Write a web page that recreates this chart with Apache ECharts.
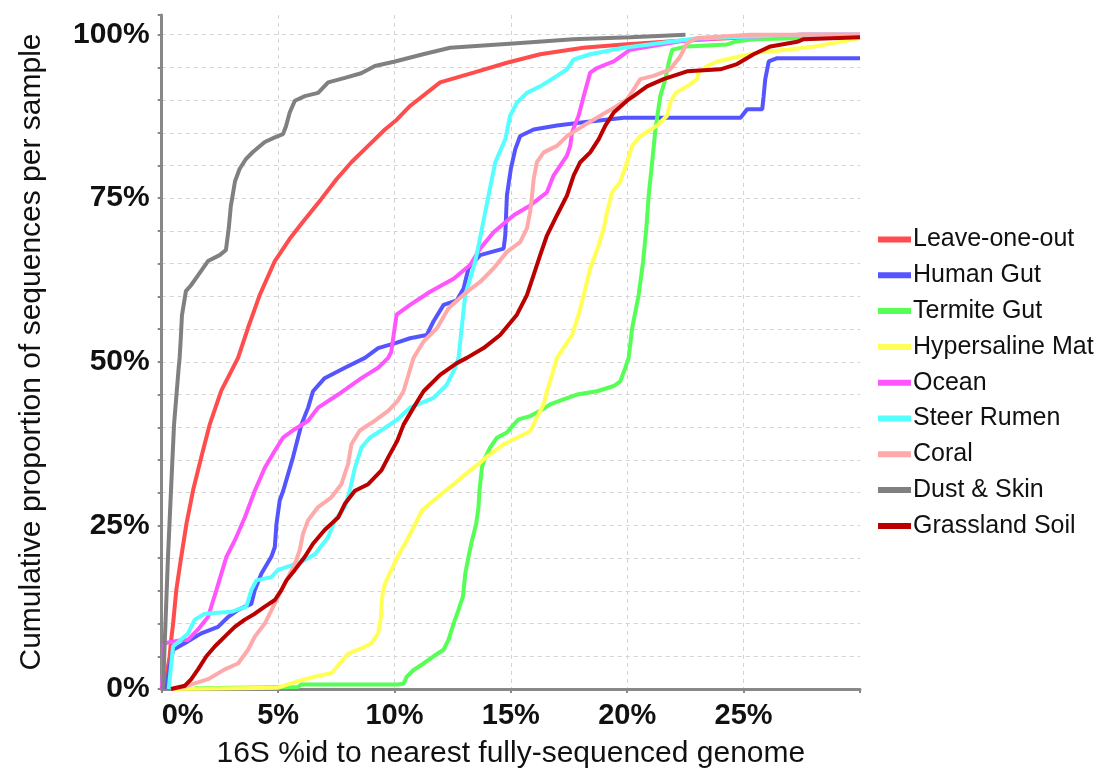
<!DOCTYPE html>
<html>
<head>
<meta charset="utf-8">
<script src="https://cdn.jsdelivr.net/npm/echarts@6/dist/echarts.min.js"></script>
<style>html,body{margin:0;padding:0;background:#fff;}#c{width:1097px;height:774px;}</style>
</head>
<body>
<div id="c"></div>
<script>
// Category names (legend order)
const seriesNames = ['Leave-one-out','Human Gut','Termite Gut','Hypersaline Mat','Ocean','Steer Rumen','Coral','Dust & Skin','Grassland Soil'];
const seriesColors = ['#ff4d4d','#5555ff','#55ff55','#ffff55','#ff55ff','#55ffff','#ffaaaa','#808080','#bb0000'];
const xTicks = [0,5,10,15,20,25];
const yLabelTicks = [0,25,50,75,100];

// [x = %id, y = cumulative %]
const leaveOneOut = [[0,0],[0.13,0.4],[0.34,5],[0.41,7.6],[0.49,10],[0.63,15.2],[0.84,20.2],[1.06,25.2],[1.35,30.4],[1.70,35.4],[2.06,40.4],[2.56,45.6],[3.28,50.6],[3.71,55.2],[4.21,60.2],[4.86,65.4],[5.50,68.8],[6.07,71.4],[6.86,74.9],[7.51,77.9],[8.15,80.5],[8.87,83.0],[9.59,85.5],[10.1,87],[10.67,89.1],[11.96,92.7],[13.4,94.2],[14.83,95.7],[16.26,97],[18.11,98],[19.83,98.5],[22.93,99.2],[27.5,100],[30,100]];
const humanGut = [[0.2,0],[0.34,3.4],[0.49,6.0],[0.99,7.0],[1.70,8.5],[2.42,9.5],[2.85,11.0],[3.28,12.1],[3.85,13.0],[4.0,15.1],[4.28,17.6],[4.71,20.2],[4.86,21.7],[4.93,25.2],[5.07,28.8],[5.22,30.3],[5.64,35.4],[6.0,40.4],[6.29,43.0],[6.5,45.5],[7.0,47.5],[7.87,49.1],[8.73,50.6],[9.30,52.1],[10.07,52.9],[10.67,53.6],[11.39,54.1],[11.68,56.2],[12.11,58.7],[12.68,59.4],[12.97,61.2],[13.18,64.3],[13.68,66.3],[14.69,67.3],[14.76,69.3],[14.83,75.4],[15.0,79.5],[15.19,82.5],[15.4,84.5],[15.98,85.5],[16.98,86.1],[18.13,86.6],[19.85,87.3],[24.87,87.3],[25.15,88.6],[25.8,88.6],[25.86,90.6],[25.93,93.2],[26.08,95.9],[26.44,96.4],[30,96.4]];
const termiteGut = [[1.4,0.1],[5.86,0.3],[5.99,0.7],[10.12,0.7],[10.39,0.8],[10.53,1.9],[10.82,2.9],[11.25,3.9],[11.68,5.0],[12.11,6.0],[12.32,7.5],[12.54,10.0],[12.75,12.1],[12.94,14.1],[13.04,17.6],[13.18,20.2],[13.33,22.7],[13.51,25.2],[13.61,27.8],[13.65,30.3],[13.76,33.9],[13.9,35.4],[14.11,36.9],[14.4,38.4],[14.83,39.2],[15.12,40.4],[15.33,41.2],[15.83,41.7],[16.26,42.5],[16.69,43.5],[17.2,44.2],[17.84,45.0],[18.7,45.5],[19.42,46.3],[19.7,47.0],[19.92,49.1],[20.06,50.6],[20.21,55.1],[20.49,60.2],[20.68,65.3],[20.82,70.4],[20.92,75.4],[21.07,80.5],[21.21,85.5],[21.42,90.6],[21.64,93.2],[21.78,95.7],[21.93,97.7],[22.57,98.2],[24.29,98.5],[24.72,99.0],[25.43,99.3],[30,99.7]];
const hypersalineMat = [[0.5,0],[5.0,0.2],[5.86,1.2],[6.58,1.9],[7.29,2.4],[7.65,3.9],[8.01,5.4],[8.58,6.2],[9.01,7.0],[9.3,8.5],[9.42,11.0],[9.47,14.1],[9.59,16.1],[9.87,18.2],[10.13,20.2],[10.53,22.7],[10.89,25.2],[11.18,27.3],[11.68,28.8],[12.18,30.3],[12.54,31.3],[13.04,32.8],[13.61,34.4],[14.11,35.9],[14.69,37.4],[15.26,38.4],[15.83,39.4],[16.12,41.5],[16.41,43.5],[16.55,45.5],[16.77,48.0],[16.98,50.6],[17.63,54.1],[17.91,57.2],[18.13,60.2],[18.41,64.3],[18.77,67.8],[18.99,70.4],[19.13,72.9],[19.35,75.9],[19.7,77.5],[19.99,80.5],[20.21,83.0],[20.56,84.5],[21.28,86.1],[21.71,87.6],[21.85,89.6],[22.07,91.1],[22.57,92.1],[23.0,93.2],[23.07,94.2],[23.43,95.2],[23.86,95.9],[24.87,96.7],[25.73,97.3],[26.87,97.7],[28.01,98.2],[28.87,98.7],[29.73,99.3],[30,99.5]];
const ocean = [[0,0],[0.01,0.4],[0.06,2.7],[0.1,7.0],[0.9,7.5],[1.13,7.5],[1.56,9.1],[1.99,11.0],[2.35,15.1],[2.78,20.2],[3.14,22.7],[3.57,26.2],[4.0,30.3],[4.43,33.8],[4.86,36.4],[5.21,38.4],[5.72,39.7],[6.29,41.0],[6.72,43.0],[7.58,45.0],[8.58,47.5],[9.3,49.1],[9.73,50.6],[9.86,51.5],[10.09,57.2],[10.67,58.7],[11.53,60.7],[12.54,62.7],[13.25,64.8],[13.68,67.3],[14.26,69.8],[15.12,72.4],[15.83,73.9],[16.55,75.9],[16.84,78.5],[17.41,81.5],[17.55,83.0],[17.63,85.1],[17.91,87.6],[18.13,90.6],[18.41,94.2],[18.7,94.9],[19.42,95.9],[20.13,97.7],[22.28,99],[24,99.5],[27.44,100],[30,100]];
const steerRumen = [[0.3,0],[0.49,6.5],[1.13,8.5],[1.42,10.6],[1.85,11.5],[2.99,11.8],[3.64,12.6],[3.85,15.1],[4.07,16.6],[4.71,17.1],[5.0,18.2],[5.57,18.9],[6.15,19.7],[6.58,20.6],[7.15,23.2],[7.44,25.8],[7.87,27.8],[8.08,30.3],[8.3,33.8],[8.58,36.9],[8.94,38.4],[9.59,39.9],[10.13,41.2],[10.67,43],[11.68,44.5],[12.25,46.5],[12.61,49.1],[12.75,50.6],[13.04,60.2],[13.47,65.3],[13.76,70.4],[14.04,75.4],[14.33,80.5],[14.76,84],[14.97,87.6],[15.26,89.6],[15.69,91.1],[16.26,92.1],[16.98,93.7],[17.41,94.7],[17.7,96.2],[18.41,97],[19.85,98],[22.93,99.4],[27.44,100],[30,100]];
const coral = [[0.4,0],[0.9,0.3],[1.99,1.5],[2.71,3.0],[3.28,3.9],[3.71,6.0],[4.0,8.0],[4.43,10.0],[4.79,12.6],[5.14,15.1],[5.43,17.1],[5.72,19.1],[5.93,21.2],[6.07,23.7],[6.29,25.8],[6.72,27.8],[7.29,29.3],[7.72,31.3],[8.01,34.4],[8.15,37.4],[8.51,39.5],[9.16,41.0],[9.73,42.5],[10.13,44.0],[10.39,45.5],[10.6,48.0],[10.82,50.6],[11.25,53.1],[11.82,55.1],[12.32,58.2],[13.11,60.7],[13.68,62.2],[14.26,64.3],[14.83,66.8],[15.4,68.3],[15.69,70.4],[15.83,72.9],[15.91,75.4],[15.98,77.9],[16.12,80.5],[16.41,82.0],[16.98,83.0],[17.41,84.5],[18.13,86.1],[18.84,87.6],[19.56,89.1],[19.99,90.1],[20.27,91.6],[20.56,93.2],[21.13,93.7],[21.85,94.7],[22.28,96.7],[22.57,98.7],[23.0,99.5],[25.3,100],[30,100]];
const dustSkin = [[0,0],[0.06,0.4],[0.27,20.2],[0.40,30.4],[0.53,40.4],[0.73,49.1],[0.77,50.6],[0.82,53.6],[0.87,57.1],[1.04,60.8],[1.26,61.7],[1.56,63.2],[1.99,65.4],[2.49,66.3],[2.76,67.1],[2.88,70.4],[2.97,73.8],[3.15,77.6],[3.35,79.5],[3.62,81],[3.93,82.1],[4.43,83.6],[4.86,84.3],[5.21,84.8],[5.34,86],[5.50,88.1],[5.72,89.9],[6.15,90.6],[6.72,91.1],[7.15,92.7],[7.87,93.4],[8.57,94.1],[9.16,95.2],[10.02,95.9],[11.23,97],[12.39,98],[15.26,98.7],[17.68,99.3],[20.13,99.6],[22.5,100]];
const grasslandSoil = [[0.4,0],[1.0,0.5],[1.27,1.5],[1.56,3.0],[1.92,5.0],[2.28,6.5],[2.71,8.0],[3.14,9.5],[3.57,10.6],[4.0,11.5],[4.43,12.6],[4.86,13.6],[5.14,15.1],[5.36,16.6],[5.72,18.2],[6.15,20.2],[6.5,22.2],[7.0,24.3],[7.58,26.2],[7.87,28.3],[8.3,30.3],[8.87,31.3],[9.44,33.4],[9.73,35.4],[10.13,38.0],[10.39,40.4],[10.82,43.0],[11.25,45.5],[11.96,48.0],[12.68,49.8],[13.11,50.6],[13.83,52.1],[14.54,54.1],[15.26,57.2],[15.69,60.2],[15.98,63.3],[16.26,66.3],[16.55,69.3],[16.98,72.4],[17.41,75.4],[17.7,78.5],[17.98,80.5],[18.41,82.0],[18.77,84.0],[19.06,86.1],[19.42,88.1],[19.99,89.9],[20.27,90.6],[20.85,92.1],[21.56,93.2],[22.57,94.4],[24.0,94.7],[24.72,95.5],[25.43,97.0],[26.15,98.2],[27.3,98.9],[27.58,99.3],[30,99.6]];

const seriesData = [leaveOneOut, humanGut, termiteGut, hypersalineMat, ocean, steerRumen, coral, dustSkin, grasslandSoil];

const chart = echarts.init(document.getElementById('c'), null, {renderer: 'canvas'});
const FONT = '"Liberation Sans", Arial, Helvetica, sans-serif';

chart.setOption({
  animation: false,
  backgroundColor: '#ffffff',
  color: seriesColors,
  grid: { left: 161.7, right: 237, top: 15, bottom: 81.3, containLabel: false },
  legend: {
    orient: 'vertical',
    left: 873,
    top: 222,
    itemWidth: 33,
    itemHeight: 6,
    itemGap: 10.8,
    icon: 'rect',
    textStyle: { fontFamily: FONT, fontSize: 25, color: '#111', lineHeight: 24, padding: [0,0,0,-3] },
    data: seriesNames
  },
  xAxis: {
    type: 'value', min: 0, max: 30, interval: 5,
    name: '16S %id to nearest fully-sequenced genome',
    nameLocation: 'middle', nameGap: 50,
    nameTextStyle: { fontFamily: FONT, fontSize: 30, color: '#111' },
    axisLine: { show: true, lineStyle: { color: '#888', width: 3 } },
    axisTick: { show: true, length: 4, lineStyle: { color: '#888', width: 2 } },
    axisLabel: {
      fontFamily: FONT, fontSize: 29, fontWeight: 'bold', color: '#111', margin: 12,
      formatter: v => xTicks.indexOf(v) >= 0 ? v + '%' : '',
      alignMinLabel: 'left'
    },
    splitLine: { show: true, showMinLine: false, showMaxLine: false, lineStyle: { color: '#d4d4d4', type: [4,4], width: 1 } }
  },
  yAxis: {
    type: 'value', min: 0, max: 103, interval: 5,
    name: 'Cumulative proportion of sequences per sample',
    nameLocation: 'middle', nameGap: 115, nameRotate: 90,
    nameTextStyle: { fontFamily: FONT, fontSize: 30, color: '#111' },
    axisLine: { show: true, lineStyle: { color: '#888', width: 3 } },
    axisTick: { show: true, length: 4, lineStyle: { color: '#888', width: 2 } },
    axisLabel: {
      fontFamily: FONT, fontSize: 30, fontWeight: 'bold', color: '#111', margin: 12,
      formatter: v => yLabelTicks.indexOf(v) >= 0 ? v + '%' : ''
    },
    splitLine: { show: true, showMinLine: false, showMaxLine: false, lineStyle: { color: '#d4d4d4', type: [4,4], width: 1 } }
  },
  series: seriesNames.map((n, i) => ({
    name: n,
    type: 'line',
    data: seriesData[i],
    showSymbol: false,
    symbol: 'none',
    lineStyle: { width: 4, color: seriesColors[i] },
    itemStyle: { color: seriesColors[i] },
    z: 2 + i
  }))
});
</script>
</body>
</html>
